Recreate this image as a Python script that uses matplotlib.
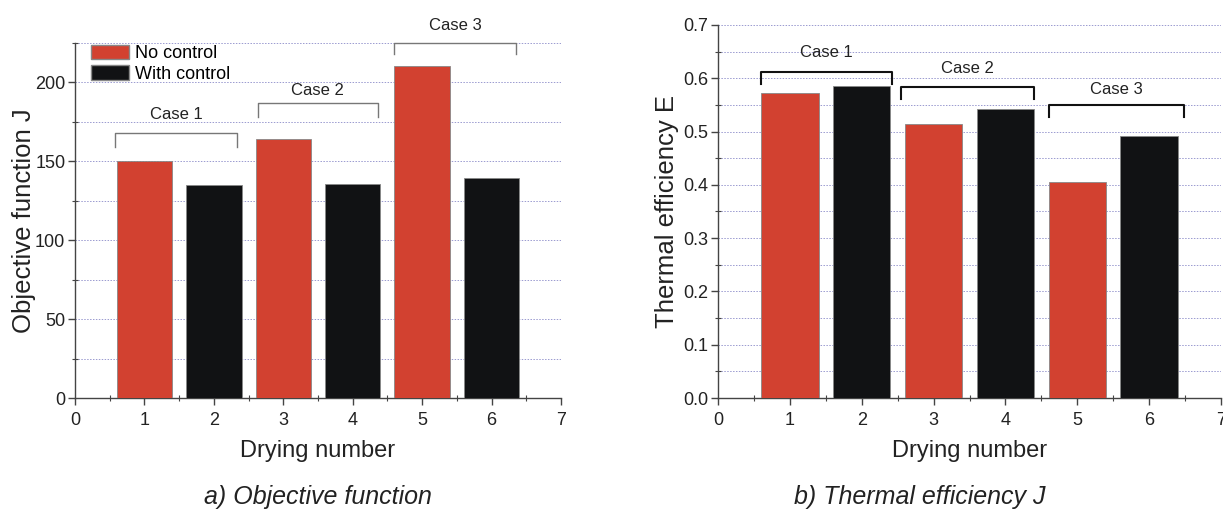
import matplotlib
matplotlib.use("Agg")
import matplotlib.pyplot as plt
from matplotlib.ticker import MultipleLocator, FormatStrFormatter
from matplotlib.patches import Patch

plt.rcParams['font.family'] = ['Liberation Sans', 'DejaVu Sans']

drying = [1, 2, 3, 4, 5, 6]
objective_J = [150, 134.7, 164, 135.8, 210.7, 139.2]
thermal_E = [0.573, 0.586, 0.515, 0.542, 0.405, 0.491]
series_names = ["No control", "With control"]
case_labels = ["Case 1", "Case 2", "Case 3"]

RED = "#d24130"
BLACK = "#111214"
colors = [RED, BLACK, RED, BLACK, RED, BLACK]

fig = plt.figure(figsize=(12.23, 5.11), dpi=100)

def style_axes(ax, ymax, major, minor):
    ax.set_xlim(0, 7)
    ax.set_ylim(0, ymax)
    ax.spines['top'].set_visible(False)
    ax.spines['right'].set_visible(False)
    for s in ('left', 'bottom'):
        ax.spines[s].set_color('#444444')
        ax.spines[s].set_linewidth(1.0)
    ax.xaxis.set_major_locator(MultipleLocator(1))
    ax.xaxis.set_minor_locator(MultipleLocator(0.5))
    ax.yaxis.set_major_locator(MultipleLocator(major))
    ax.yaxis.set_minor_locator(MultipleLocator(minor))
    ax.tick_params(which='major', direction='out', length=5, width=1, color='#444444',
                   labelsize=13, labelcolor='#222222', pad=2)
    ax.tick_params(axis='x', which='major', pad=5)
    ax.tick_params(which='minor', direction='inout', length=5, width=0.8, color='#444444')
    ax.yaxis.grid(True, which='both', linestyle=(0, (1.5, 1.5)), color='#9a9ad0', linewidth=0.7)
    ax.set_axisbelow(True)
    ax.set_xlabel("Drying number", fontsize=17, color='#222222', labelpad=8)

def bracket(ax, x0, x1, ytop, yleg, ytxt, label, color, lw):
    ax.plot([x0, x0, x1, x1], [yleg, ytop, ytop, yleg], color=color, lw=lw, clip_on=False, zorder=4)
    ax.text((x0 + x1) / 2, ytxt, label, ha='center', va='center', fontsize=12, color='#222222',
            clip_on=False)

# ---- left panel
ax1 = fig.add_axes([75/1223, 113/511, 486/1223, 355/511])
ax1.bar(drying, objective_J, width=0.8, color=colors, edgecolor='#888888', linewidth=0.6, zorder=3)
style_axes(ax1, 225, 50, 25)
ax1.set_ylabel("Objective function J", fontsize=18.5, color='#222222')
ax1.yaxis.set_label_coords(-39/486, 0.5)
handles = [Patch(facecolor=RED, edgecolor='#888888'), Patch(facecolor=BLACK, edgecolor='#888888')]
ax1.legend(handles, series_names, loc='upper left', bbox_to_anchor=(0.03, 1.0), frameon=False,
           fontsize=13, handlelength=2.1, handleheight=0.85, handletextpad=0.3, labelspacing=0.17,
           borderaxespad=0, borderpad=0.1)

bracket(ax1, 0.58, 2.34, 168, 159, 180, case_labels[0], '#777777', 1.0)
bracket(ax1, 2.63, 4.36, 187, 178, 195, case_labels[1], '#777777', 1.0)
bracket(ax1, 4.6, 6.35, 225, 218, 236, case_labels[2], '#777777', 1.0)

# ---- right panel
ax2 = fig.add_axes([718/1223, 113/511, 503/1223, 373/511])
ax2.bar(drying, thermal_E, width=0.8, color=colors, edgecolor='#888888', linewidth=0.6, zorder=3)
style_axes(ax2, 0.7, 0.1, 0.05)
ax2.yaxis.set_major_formatter(FormatStrFormatter('%.1f'))
ax2.set_ylabel("Thermal efficiency E", fontsize=18.5, color='#222222')
ax2.yaxis.set_label_coords(-39/503, 0.5)
bracket(ax2, 0.6, 2.42, 0.612, 0.59, 0.648, case_labels[0], '#111111', 1.5)
bracket(ax2, 2.55, 4.4, 0.583, 0.561, 0.619, case_labels[1], '#111111', 1.5)
bracket(ax2, 4.61, 6.48, 0.549, 0.527, 0.579, case_labels[2], '#111111', 1.5)

fig.text(318/1223, 1 - 497/511, "a) Objective function", ha='center', va='center',
         fontsize=18, style='italic', color='#222222')
fig.text(920/1223, 1 - 497/511, "b) Thermal efficiency J", ha='center', va='center',
         fontsize=18, style='italic', color='#222222')

fig.savefig("out.png", dpi=100, facecolor='white')
